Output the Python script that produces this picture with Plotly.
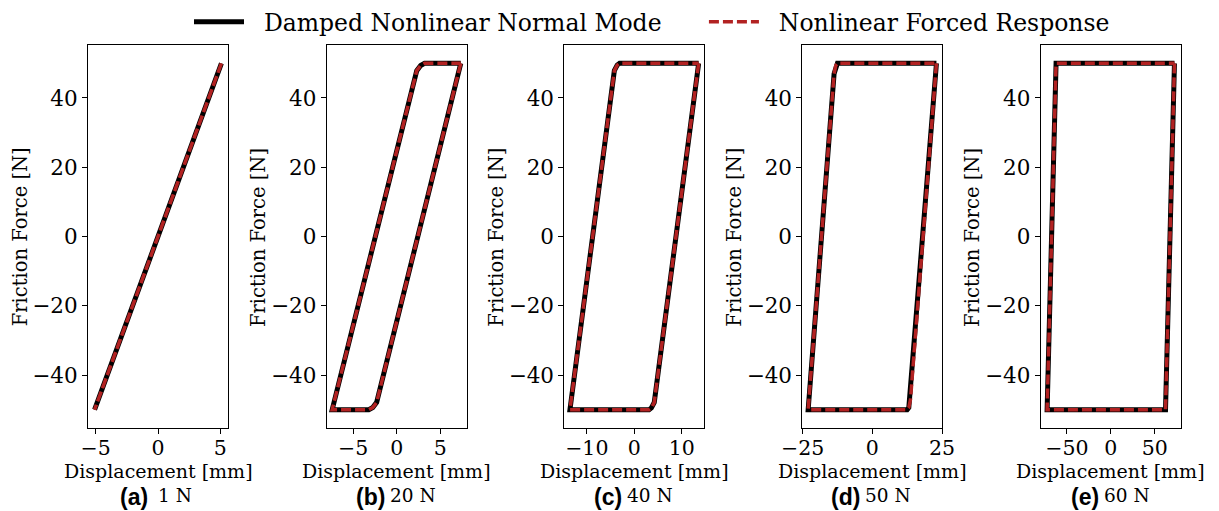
import plotly.graph_objects as go

# ---- data (displacement [mm], friction force [N]) ----
# Both series (NNM and forced response) coincide on every panel.
panel_names = ["(a)", "(b)", "(c)", "(d)", "(e)"]
panel_levels = ["1 N", "20 N", "40 N", "50 N", "60 N"]

disp_a = [5.09, -5.02, -5.09, 5.02, 5.09]
force_a = [50, -50, -50, 50, 50]

disp_b = [7.35, -2.3, -2.75, -3.2, -7.4, 2.3, 2.75, 3.2, 7.35]
force_b = [50, -47.9, -49.4, -50, -50, 47.9, 49.4, 50, 50]

disp_c = [13.55, 4.2, 3.6, 3.1, -13.55, -4.2, -3.6, -3.1, 13.55]
force_c = [50, -47.9, -49.5, -50, -50, 47.9, 49.5, 50, 50]

disp_d = [23.0, 13.7, 13.1, 12.5, -23.0, -13.7, -13.1, -12.5, 23.0]
force_d = [50, -47.0, -49.4, -50, -50, 47.0, 49.4, 50, 50]

disp_e = [72.5, 63.6, 62.9, 62.3, -72.5, -63.6, -62.9, -62.3, 72.5]
force_e = [50, -46.0, -49.4, -50, -50, 46.0, 49.4, 50, 50]

x_ticks = [[-5, 0, 5], [-5, 0, 5], [-10, 0, 10], [-25, 0, 25], [-50, 0, 50]]
y_ticks = [-40, -20, 0, 20, 40]

nnm_x = [disp_a, disp_b, disp_c, disp_d, disp_e]
nnm_y = [force_a, force_b, force_c, force_d, force_e]
frc_x = [disp_a, disp_b, disp_c, disp_d, disp_e]
frc_y = [force_a, force_b, force_c, force_d, force_e]

NNM_NAME = "Damped Nonlinear Normal Mode"
FRC_NAME = "Nonlinear Forced Response"

# ---- layout constants ----
W, H = 1219, 511
TOP, BOT = 45, 428.3
x_ranges = [[-5.62, 5.62], [-8.03, 8.03], [-14.74, 14.74], [-25.1, 25.1], [-79.8, 79.6]]
y_range = [-55.3, 55.3]
lefts = [88, 326.7, 564.3, 802.3, 1040.7]
pw = 140

SERIF = "DejaVu Serif"
BLACK = "black"
RED = "#B22222"
NB = "\u00a0"

fig = go.Figure()
for i in range(5):
    s = "" if i == 0 else str(i + 1)
    fig.add_trace(go.Scatter(
        x=nnm_x[i], y=nnm_y[i], mode="lines",
        line=dict(color=BLACK, width=5),
        name=NB * 2 + NNM_NAME + NB * 5, legendgroup="nnm",
        showlegend=(i == 0), xaxis="x" + s, yaxis="y" + s))
    fig.add_trace(go.Scatter(
        x=frc_x[i], y=frc_y[i], mode="lines",
        line=dict(color=RED, width=3.5, dash="10px,4px"),
        name=NB * 2 + FRC_NAME, legendgroup="frc",
        showlegend=(i == 0), xaxis="x" + s, yaxis="y" + s))

ph = BOT - TOP
def py(ypix):
    return (BOT - ypix) / ph

annotations = []
layout = dict(
    width=W, height=H,
    margin=dict(l=0, r=0, t=TOP, b=H - BOT, pad=0, autoexpand=False),
    paper_bgcolor="white", plot_bgcolor="white",
    font=dict(family=SERIF, color="black", size=20),
    legend=dict(orientation="h", x=652 / W, xanchor="center",
                yref="container", y=1.0, yanchor="top",
                font=dict(family=SERIF, size=23.5), itemwidth=50,
                bgcolor="rgba(0,0,0,0)", traceorder="normal"),
    showlegend=True,
)
for i in range(5):
    s = "" if i == 0 else str(i + 1)
    l = lefts[i]
    layout["xaxis" + s] = dict(
        domain=[l / W, (l + pw) / W], range=x_ranges[i], automargin=False,
        anchor="y" + s, tickvals=x_ticks[i], ticks="outside", ticklen=5,
        tickwidth=1, tickcolor="black", showline=True, linecolor="black",
        linewidth=1, mirror=True, showgrid=False, zeroline=False,
        ticklabelstandoff=-4,
        tickfont=dict(family=SERIF, size=20.5))
    layout["yaxis" + s] = dict(
        domain=[0, 1], range=y_range, anchor="x" + s, automargin=False,
        tickvals=y_ticks, ticks="outside", ticklen=5, tickwidth=1,
        tickcolor="black", showline=True, linecolor="black", linewidth=1,
        mirror=True, showgrid=False, zeroline=False,
        tickfont=dict(family=SERIF, size=21.5))
    cx = (l + pw / 2) / W
    annotations.append(dict(
        text="Displacement [mm]", xref="paper", yref="paper",
        x=cx, y=py(471.5), xanchor="center", yanchor="middle",
        showarrow=False, font=dict(family=SERIF, size=19)))
    annotations.append(dict(
        text="Friction Force [N]", xref="paper", yref="paper",
        x=(l - 68) / W, y=py(237.5), xanchor="center", yanchor="middle",
        textangle=-90, showarrow=False, font=dict(family=SERIF, size=19.5)))
    br = 62 if i == 0 else 60
    nl = 68 if i == 0 else 61
    annotations.append(dict(
        text="<b>" + panel_names[i] + "</b>", xref="paper", yref="paper",
        x=(l + br) / W, y=py(497), xanchor="right", yanchor="middle",
        showarrow=False, font=dict(family="Liberation Sans", size=23)))
    annotations.append(dict(
        text=panel_levels[i], xref="paper", yref="paper",
        x=(l + nl) / W, y=py(496), xanchor="left", yanchor="middle",
        showarrow=False, font=dict(family=SERIF, size=18.5)))
layout["annotations"] = annotations
fig.update_layout(**layout)
fig.write_html("out.html")
